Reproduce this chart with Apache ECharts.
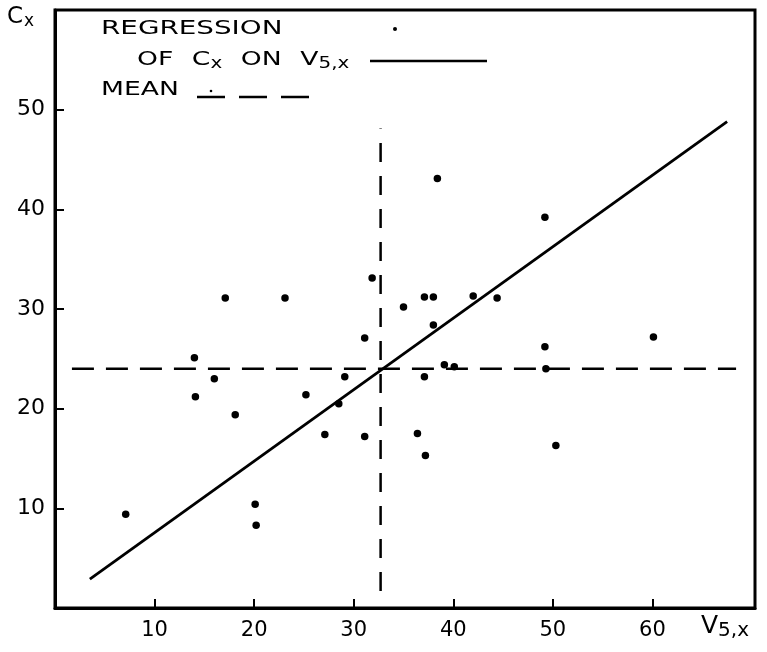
<!DOCTYPE html>
<html>
<head>
<meta charset="utf-8">
<script src="https://cdn.jsdelivr.net/npm/echarts@6/dist/echarts.min.js"></script>
<style>html,body{margin:0;padding:0;background:#fff;}#c{width:767px;height:652px;}</style>
</head>
<body>
<div id="c"></div>
<script>
// Observed points [V5,x , Cx]
const pointsX = [7.1,14.0,14.1,16.0,17.1,18.1,20.1,20.2,23.1,25.2,27.1,28.5,29.1,31.1,31.1,31.85,35.0,36.4,37.1,37.1,37.2,38.0,38.0,38.4,39.1,40.1,42.0,44.4,49.2,49.2,49.3,50.3,60.1];
const pointsY = [9.4,25.1,21.2,23.0,31.1,19.4,10.4,8.3,31.1,21.4,17.4,20.5,23.2,27.1,17.2,33.1,30.2,17.5,31.2,23.2,15.3,31.2,28.4,43.1,24.4,24.2,31.3,31.1,39.2,26.2,24.0,16.3,27.2];
// Regression of Cx on V5,x (end points)
const regressionX = [3.5, 67.5];
const regressionY = [2.9, 48.8];
// Mean lines
const meanX = 32.7;
const meanY = 24;
const meanHExtent = [1.7, 68.4];
const meanVExtent = [1.7, 48.1];
// Axis ticks
const xTicks = [10,20,30,40,50,60];
const yTicks = [10,20,30,40,50];

const FONT = '"DejaVu Sans", sans-serif';
const chart = echarts.init(document.getElementById('c'), null, {renderer:'canvas'});

const scatterData = pointsX.map((x,i)=>[x, pointsY[i]]);
const regData = regressionX.map((x,i)=>[x, regressionY[i]]);
const meanHData = meanHExtent.map(x=>[x, meanY]);
const meanVData = meanVExtent.map(y=>[meanX, y]);

chart.setOption({
  backgroundColor:'#fff',
  animation:false,
  grid:{left:55, right:12, top:10, bottom:44, show:true, borderColor:'#000', borderWidth:3},
  xAxis:{
    type:'value', min:0, max:70.3, interval:10,
    axisLine:{show:true, lineStyle:{color:'#000', width:3}},
    axisTick:{show:true, inside:true, length:9, customValues:xTicks, lineStyle:{color:'#000', width:2}},
    splitLine:{show:false},
    axisLabel:{color:'#000', fontFamily:FONT, fontSize:21, margin:12, customValues:xTicks}
  },
  yAxis:{
    type:'value', min:0, max:60, interval:10,
    axisLine:{show:true, lineStyle:{color:'#000', width:3}},
    axisTick:{show:true, inside:true, length:9, customValues:yTicks, lineStyle:{color:'#000', width:2}},
    splitLine:{show:false},
    axisLabel:{color:'#000', fontFamily:FONT, fontSize:22, margin:10, customValues:yTicks}
  },
  series:[
    {type:'line', data:meanHData, symbol:'none', silent:true,
      lineStyle:{color:'#000', width:2.5, type:[22,12]}},
    {type:'line', data:meanVData, symbol:'none', silent:true,
      lineStyle:{color:'#000', width:2.5, type:[19,14]}},
    {type:'line', data:regData, symbol:'none', silent:true,
      lineStyle:{color:'#000', width:2.8}},
    {type:'scatter', data:scatterData, symbol:'circle', symbolSize:7.5,
      itemStyle:{color:'#000', opacity:1}}
  ],
  graphic:[
    {type:'text', x:7, y:4, style:{text:'{c|C}{s|x}', rich:{
      c:{fontFamily:FONT, fontSize:23, fill:'#000'},
      s:{fontFamily:FONT, fontSize:17, fill:'#000', padding:[9,0,0,1]}}}},
    {type:'text', x:701, y:611, style:{text:'{c|V}{s|5,x}', rich:{
      c:{fontFamily:FONT, fontSize:25, fill:'#000'},
      s:{fontFamily:FONT, fontSize:20, fill:'#000', padding:[10,0,0,0]}}}},
    {type:'text', x:101, y:19, scaleX:1.39, style:{text:'REGRESSION', fontFamily:FONT, fontSize:20, fill:'#000'}},
    {type:'circle', shape:{cx:395, cy:29, r:2}, style:{fill:'#000'}},
    {type:'text', x:137, y:48, scaleX:1.33, style:{text:'{t|OF}{c|C}{s|x}{o|ON}{c|V}{s|5,x}', rich:{
      t:{fontFamily:FONT, fontSize:20, fill:'#000'},
      o:{fontFamily:FONT, fontSize:20, fill:'#000', padding:[0,0,0,14]},
      c:{fontFamily:FONT, fontSize:20, fill:'#000', padding:[0,0,0,14]},
      s:{fontFamily:FONT, fontSize:15, fill:'#000', padding:[9,0,0,0]}}}},
    {type:'line', shape:{x1:370, y1:61, x2:487, y2:61}, style:{stroke:'#000', lineWidth:2.5}},
    {type:'text', x:101, y:80, scaleX:1.33, style:{text:'MEAN', fontFamily:FONT, fontSize:20, fill:'#000'}},
    {type:'line', shape:{x1:197, y1:97, x2:310, y2:97}, style:{stroke:'#000', lineWidth:2.5, lineDash:[28,14]}},
    {type:'circle', shape:{cx:211, cy:91, r:1.3}, style:{fill:'#000'}}
  ]
});
</script>
</body>
</html>
